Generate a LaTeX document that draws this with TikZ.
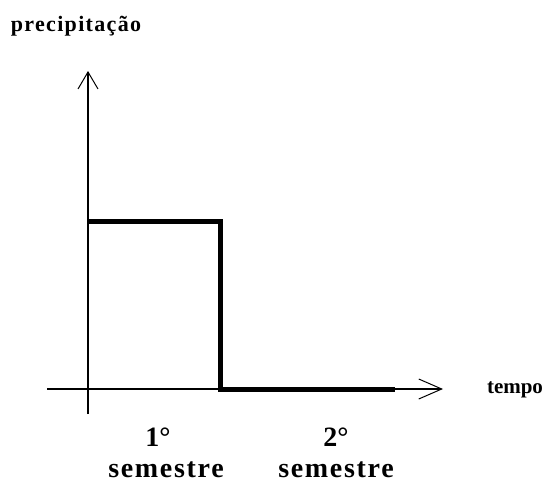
\documentclass[tikz,border=0pt]{standalone}
\usepackage{fontspec}
\setmainfont{Liberation Serif}
\newfontfamily\widefont[LetterSpace=6]{Liberation Serif}
\usetikzlibrary{arrows.meta, positioning}

\begin{document}
\begin{tikzpicture}
        [
            x=1pt, y=-1pt,
            axis/.style={line width=1.2pt},
            barb/.style={-{Straight Barb[length=#1, width=20pt, line width=1pt]}},
            step curve/.style={line width=5pt},
            lbl/.style={font=\bfseries\fontsize{#1}{24}\selectfont, inner sep=0pt, anchor=base},
            wide lbl/.style={font=\widefont\bfseries\fontsize{#1}{30}\selectfont,
                             inner sep=0pt, anchor=base}
        ]
        \useasboundingbox (0,0) rectangle (549,482);
        % axes
        \coordinate (o) at (88,389);
        \coordinate (ybot) at (88,414);
        \coordinate (ytop) at (88,71);
        \coordinate (xleft) at (47,389);
        \coordinate (xright) at (443,389);
        \draw [axis, barb=17pt] (ybot) -- (ytop);
        \draw [axis, barb=23pt] (xleft) -- (xright);
        % precipitation step
        \coordinate (s0) at (88,221);
        \coordinate (s1) at (220,221);
        \coordinate (s2) at (220,389);
        \coordinate (s3) at (395,389);
        \draw [step curve] (s0) -- (s1) -- (s2) -- (s3);
        % labels
        \node (prec) [wide lbl=22] at (76,31) {precipitação};
        \node (tempo) [lbl=21] at (515,393) {tempo};
        \node (first) [lbl=28] at (158,446) {1°};
        \node (sem1) [wide lbl=28] at (166,477) {semestre};
        \node (second) [lbl=28] at (336,446) {2°};
        \node (sem2) [wide lbl=28] at (336,477) {semestre};
    \end{tikzpicture}
\end{document}
